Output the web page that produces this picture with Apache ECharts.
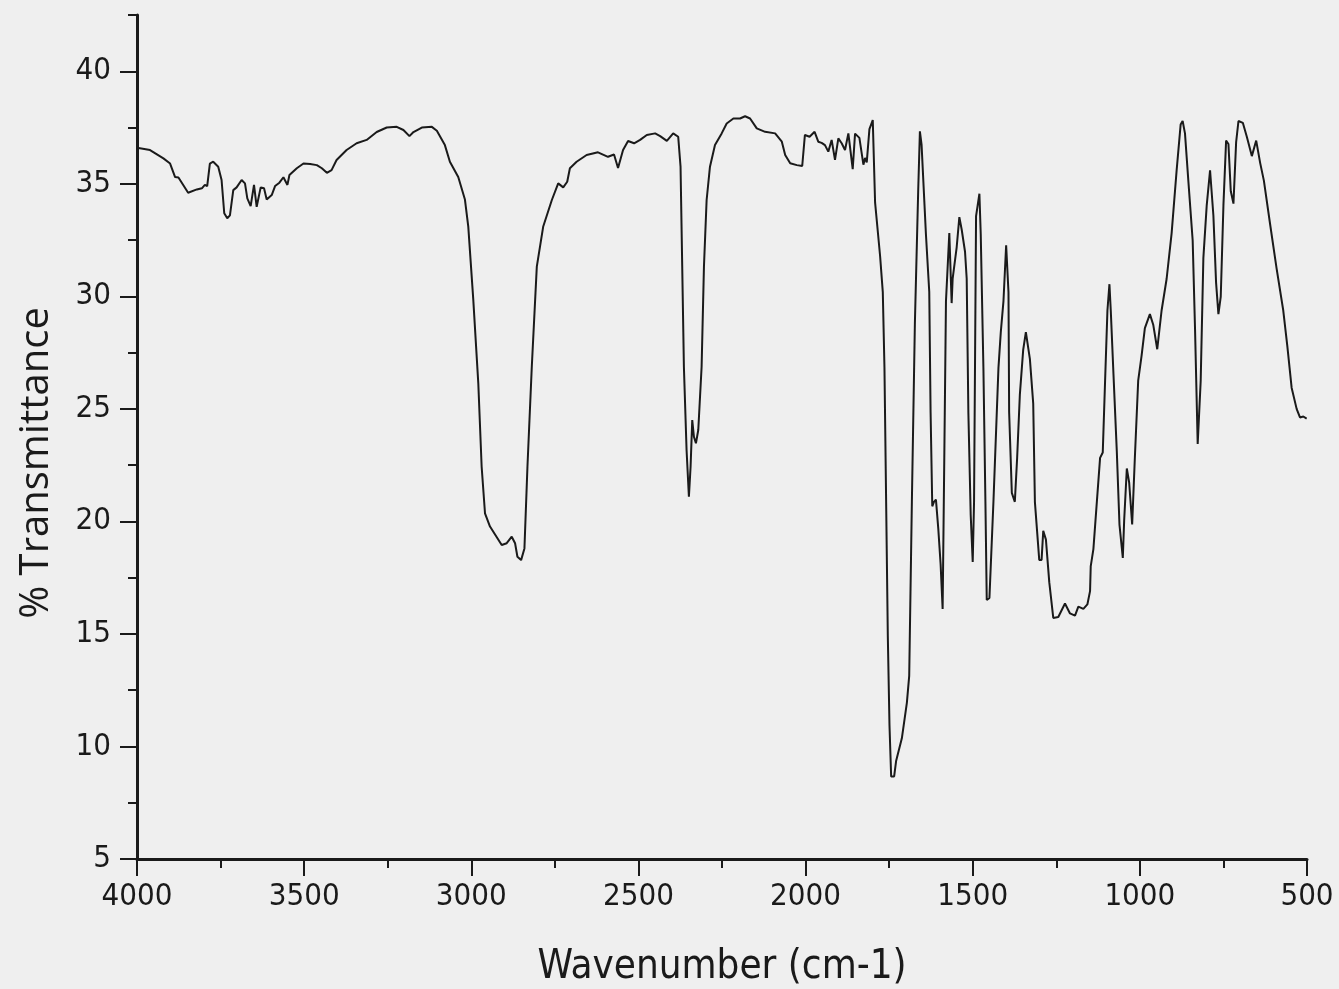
<!DOCTYPE html>
<html>
<head>
<meta charset="utf-8">
<script src="https://cdn.jsdelivr.net/npm/echarts@6/dist/echarts.min.js"></script>
<style>
html,body{margin:0;padding:0;background:#efefef;}
#chart{width:1339px;height:989px;}
</style>
</head>
<body>
<div id="chart"></div>
<script>
const wavenumber = [4000,3961,3921,3901,3886,3876,3847,3821,3806,3797,3790,3782,3772,3757,3747,3739,3730,3722,3712,3702,3687,3677,3670,3660,3650,3642,3630,3620,3612,3597,3587,3574,3562,3550,3544,3522,3502,3482,3462,3447,3432,3418,3403,3373,3343,3313,3283,3253,3223,3203,3185,3173,3148,3118,3103,3079,3064,3039,3019,3009,2994,2979,2969,2959,2944,2909,2894,2879,2869,2862,2851,2841,2832,2819,2804,2785,2759,2740,2725,2713,2705,2685,2655,2621,2591,2573,2561,2546,2531,2513,2495,2475,2450,2435,2415,2396,2381,2374,2369,2364,2356,2349,2344,2339,2334,2328,2321,2311,2304,2296,2286,2271,2251,2236,2216,2196,2181,2166,2146,2121,2091,2071,2061,2046,2026,2010,2002,1988,1973,1962,1952,1942,1932,1922,1912,1902,1892,1882,1872,1859,1852,1839,1827,1822,1817,1809,1799,1792,1777,1769,1764,1759,1754,1749,1744,1735,1729,1712,1697,1690,1682,1673,1663,1658,1653,1648,1640,1630,1626,1621,1616,1610,1603,1596,1590,1585,1580,1570,1563,1560,1548,1540,1533,1523,1518,1513,1506,1500,1496,1490,1480,1476,1468,1462,1458,1450,1438,1423,1416,1408,1400,1393,1391,1383,1374,1367,1359,1349,1341,1329,1319,1314,1301,1294,1289,1281,1271,1259,1244,1224,1209,1194,1184,1169,1157,1149,1147,1139,1129,1119,1111,1104,1097,1091,1087,1079,1069,1061,1051,1047,1039,1032,1023,1015,1005,995,985,970,960,948,935,920,905,890,878,872,865,855,842,835,827,818,810,800,790,780,772,765,758,750,742,735,728,720,712,705,692,680,665,652,640,629,611,591,571,559,546,531,521,511,501];
const transmittance = [36.6,36.5,36.13,35.9,35.3,35.28,34.6,34.75,34.8,34.95,34.9,35.9,35.98,35.76,35.17,33.69,33.47,33.6,34.72,34.84,35.17,35.02,34.35,34.01,34.95,33.98,34.84,34.8,34.3,34.5,34.9,35.05,35.29,34.95,35.39,35.69,35.9,35.88,35.83,35.69,35.49,35.61,36.06,36.5,36.8,36.95,37.3,37.5,37.53,37.39,37.12,37.3,37.5,37.53,37.36,36.72,35.98,35.3,34.3,33.1,29.84,26.13,22.43,20.36,19.77,18.95,19.03,19.32,19.03,18.43,18.28,18.8,22.43,26.87,31.32,33.09,34.28,35.02,34.84,35.09,35.69,35.98,36.28,36.4,36.2,36.3,35.7,36.5,36.9,36.8,36.95,37.17,37.24,37.12,36.91,37.24,37.09,35.76,31.32,26.87,23.17,21.1,22.43,24.5,23.76,23.47,24.06,26.87,31.32,34.28,35.76,36.72,37.24,37.68,37.9,37.9,38.0,37.9,37.46,37.31,37.24,36.87,36.28,35.91,35.83,35.79,37.17,37.09,37.31,36.87,36.82,36.72,36.43,36.95,36.06,37.02,36.8,36.5,37.24,35.65,37.23,37.04,35.85,36.15,35.95,37.43,37.83,34.16,31.78,30.19,26.82,20.87,14.92,10.95,8.67,8.67,9.37,10.36,11.94,13.14,20.87,28.8,34.75,37.33,36.74,36.74,32.77,30.19,24.84,20.67,20.87,20.97,19.68,18.09,16.11,22.85,29.79,32.81,29.7,30.79,32.18,33.52,32.97,31.98,30.79,24.84,20.28,18.2,20.87,33.56,34.56,32.77,26.82,20.87,16.51,16.6,20.87,26.82,28.41,29.79,32.27,30.19,24.84,21.27,20.87,22.85,25.63,27.62,28.41,27.22,25.23,20.87,18.29,18.29,19.58,19.19,17.3,15.71,15.75,16.35,15.91,15.81,16.21,16.11,16.31,16.9,18.0,18.77,20.8,22.82,23.06,26.25,29.37,30.54,29.37,26.56,23.13,19.86,18.38,20.02,22.35,21.73,19.86,22.82,26.25,27.34,28.59,29.21,28.74,27.65,29.37,30.77,32.8,35.6,37.63,37.79,37.24,35.14,32.48,28.59,23.44,26.25,31.71,34.04,35.6,33.58,30.61,29.21,29.99,34.04,36.92,36.77,34.67,34.12,36.85,37.79,37.71,37.09,36.23,36.92,35.92,35.14,33.27,31.24,29.37,27.81,25.94,25.0,24.62,24.66,24.57];
const yMajorTicks = [5,10,15,20,25,30,35,40];
const yMinorTicks = [7.5,12.5,17.5,22.5,27.5,32.5,37.5,42.5];
const xTitle = 'Wavenumber (cm-1)';
const yTitle = '% Transmittance';

const points = wavenumber.map((w, i) => [w, transmittance[i]]);
const labelFont = '"DejaVu Sans Condensed", "DejaVu Sans", sans-serif';

const chart = echarts.init(document.getElementById('chart'), null, {renderer: 'canvas'});
chart.setOption({
  backgroundColor: '#efefef',
  animation: false,
  grid: {left: 137, right: 32, top: 15, bottom: 130, containLabel: false, outerBoundsMode: 'none'},
  xAxis: {
    type: 'value', inverse: true, min: 500, max: 4000, interval: 500,
    name: xTitle, nameLocation: 'middle', nameGap: 89,
    nameTextStyle: {fontFamily: labelFont, fontSize: 40, color: '#1a1a1a'},
    axisLine: {show: true, lineStyle: {color: '#1a1a1a', width: 3}},
    axisTick: {show: true, length: 17, lineStyle: {color: '#1a1a1a', width: 2}},
    minorTick: {show: true, splitNumber: 2, length: 9, lineStyle: {color: '#1a1a1a', width: 2}},
    axisLabel: {fontFamily: labelFont, fontSize: 31, color: '#1a1a1a', margin: 22, formatter: v => String(v)},
    splitLine: {show: false}, minorSplitLine: {show: false}
  },
  yAxis: [{
    type: 'value', min: 5, max: 42.5, interval: 5,
    name: yTitle, nameLocation: 'middle', nameGap: 80,
    nameTextStyle: {fontFamily: '"Open Sans", sans-serif', fontSize: 40, color: '#1a1a1a', padding: [0, 52, 0, 0]},
    axisLine: {show: true, lineStyle: {color: '#1a1a1a', width: 3}},
    axisTick: {show: true, length: 17, customValues: yMajorTicks, lineStyle: {color: '#1a1a1a', width: 2}},
    axisLabel: {fontFamily: labelFont, fontSize: 31, color: '#1a1a1a', margin: 26, customValues: yMajorTicks, formatter: v => String(v)},
    splitLine: {show: false}
  }, {
    type: 'value', min: 5, max: 42.5, position: 'left', offset: 0,
    axisLine: {show: false},
    axisTick: {show: true, length: 9, customValues: yMinorTicks, lineStyle: {color: '#1a1a1a', width: 2}},
    axisLabel: {show: false},
    splitLine: {show: false}
  }],
  series: [{
    type: 'line', data: points, xAxisIndex: 0, yAxisIndex: 0,
    showSymbol: false, smooth: false,
    lineStyle: {color: '#1a1a1a', width: 2},
    silent: true
  }]
});
</script>
</body>
</html>
